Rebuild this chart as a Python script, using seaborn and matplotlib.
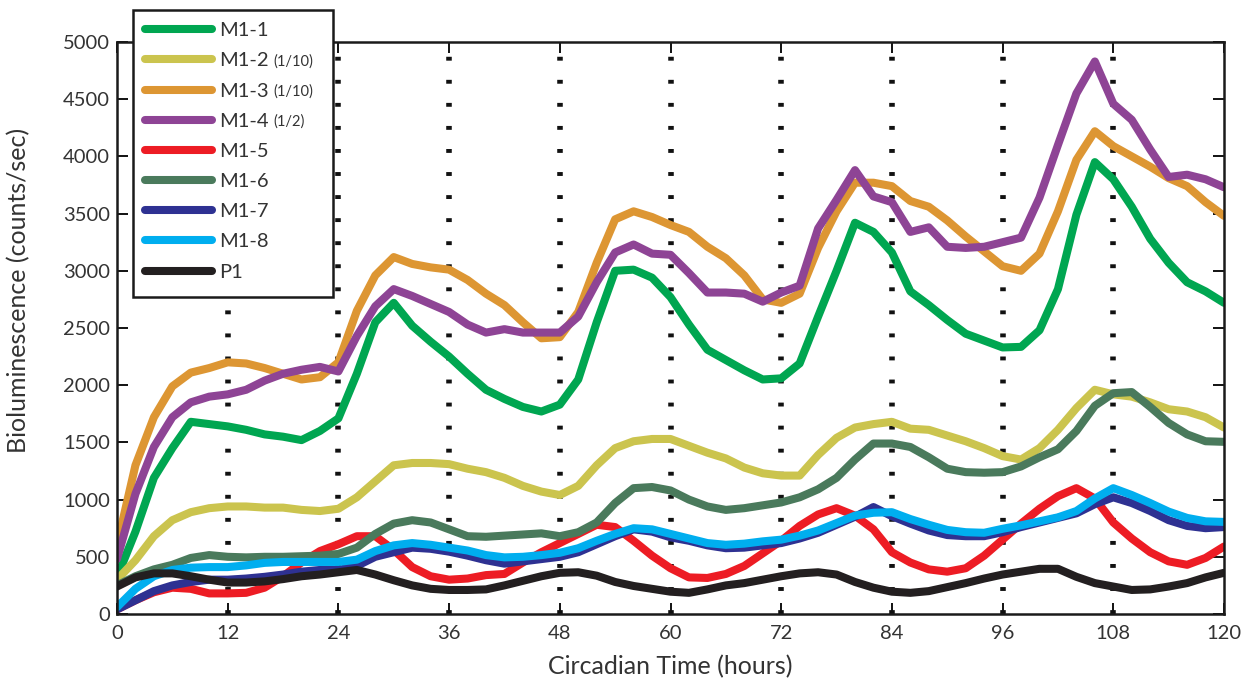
import matplotlib
matplotlib.use("Agg")
import matplotlib.pyplot as plt
from matplotlib.lines import Line2D
from matplotlib.patches import Rectangle
import seaborn as sns
import numpy as np
import pandas as pd

# %% data (every 2 h)
hours = list(range(0, 121, 2))

m1_1 = [320, 720, 1190, 1450, 1680, 1660, 1640, 1610, 1570, 1550,
        1520, 1600, 1710, 2100, 2550, 2720, 2520, 2380, 2250, 2100,
        1960, 1880, 1810, 1770, 1830, 2050, 2550, 3000, 3010, 2940,
        2770, 2530, 2310, 2220, 2130, 2050, 2060, 2190, 2600, 3000,
        3420, 3340, 3160, 2820, 2700, 2570, 2450, 2390, 2330, 2335,
        2480, 2840, 3490, 3950, 3800, 3560, 3280, 3070, 2900, 2820,
        2720]
m1_2 = [300, 470, 680, 820, 890, 925, 940, 940, 930, 930,
        910, 900, 920, 1020, 1160, 1300, 1320, 1320, 1310, 1270,
        1240, 1190, 1120, 1070, 1040, 1120, 1300, 1450, 1510, 1530,
        1530, 1470, 1410, 1360, 1280, 1230, 1210, 1210, 1390, 1540,
        1630, 1660, 1680, 1620, 1610, 1560, 1510, 1450, 1380, 1350,
        1450, 1610, 1800, 1960, 1920, 1900, 1850, 1790, 1770, 1720,
        1630]
m1_3 = [600, 1300, 1720, 1990, 2110, 2150, 2200, 2190, 2150, 2100,
        2050, 2070, 2200, 2650, 2960, 3120, 3060, 3030, 3010, 2920,
        2800, 2700, 2550, 2410, 2420, 2640, 3070, 3450, 3520, 3470,
        3400, 3340, 3210, 3110, 2960, 2750, 2720, 2800, 3200, 3520,
        3770, 3770, 3740, 3610, 3560, 3440, 3300, 3170, 3040, 3000,
        3150, 3520, 3970, 4220, 4090, 4000, 3910, 3810, 3740, 3600,
        3480]
m1_4 = [480, 1050, 1460, 1720, 1850, 1900, 1920, 1960, 2040, 2100,
        2135, 2160, 2120, 2430, 2690, 2840, 2780, 2710, 2640, 2530,
        2460, 2490, 2460, 2460, 2460, 2600, 2900, 3160, 3230, 3150,
        3140, 2980, 2810, 2810, 2800, 2730, 2810, 2870, 3370, 3620,
        3880, 3650, 3600, 3340, 3380, 3210, 3200, 3210, 3250, 3290,
        3640, 4100, 4550, 4830, 4460, 4320, 4060, 3820, 3840, 3800,
        3730]
m1_5 = [40, 120, 190, 230, 220, 180, 180, 185, 230, 330,
        450, 550, 610, 680, 680, 560, 410, 330, 300, 310,
        340, 350, 450, 540, 620, 700, 780, 760, 640, 510,
        400, 320, 315, 350, 420, 530, 640, 770, 870, 925,
        860, 740, 540, 450, 390, 370, 400, 510, 650, 790,
        920, 1030, 1100, 1010, 800, 660, 540, 460, 430, 490,
        590]
m1_6 = [250, 330, 390, 430, 490, 515, 500, 495, 500, 500,
        505, 510, 525, 580, 700, 790, 820, 800, 740, 680,
        675, 685, 695, 705, 680, 715, 800, 970, 1100, 1110,
        1080, 1000, 940, 910, 925, 950, 975, 1020, 1090, 1190,
        1350, 1490, 1490, 1460, 1370, 1270, 1240, 1235, 1240, 1290,
        1370, 1440, 1600, 1820, 1930, 1940, 1810, 1670, 1570, 1510,
        1505]
m1_7 = [40, 120, 200, 250, 280, 300, 300, 310, 325, 345,
        370, 385, 385, 420, 500, 540, 580, 570, 545, 510,
        470, 440, 460, 480, 500, 540, 610, 680, 740, 720,
        670, 640, 600, 575, 580, 600, 620, 660, 710, 780,
        850, 935, 855, 790, 730, 690, 680, 680, 715, 760,
        800, 840, 880, 960, 1020, 970, 900, 820, 770, 750,
        760]
m1_8 = [60, 220, 330, 385, 405, 410, 410, 425, 447, 455,
        455, 455, 455, 475, 550, 600, 620, 605, 580, 555,
        515, 495, 500, 515, 535, 575, 640, 700, 750, 740,
        700, 660, 620, 605, 615, 635, 650, 685, 730, 795,
        860, 885, 890, 830, 780, 735, 715, 710, 745, 775,
        810, 845, 900, 1010, 1100, 1040, 970, 895, 840, 810,
        805]
p1 = [240, 320, 355, 355, 330, 300, 275, 275, 285, 305,
      330, 345, 365, 385, 345, 295, 250, 220, 210, 210,
      215, 250, 290, 330, 360, 365, 335, 280, 245, 220,
      195, 185, 215, 250, 270, 300, 330, 355, 365, 345,
      280, 230, 195, 185, 200, 235, 270, 310, 345, 370,
      395, 395, 325, 270, 240, 210, 215, 240, 270, 320,
      360]

names = ['M1-1', 'M1-2', 'M1-3', 'M1-4', 'M1-5', 'M1-6', 'M1-7', 'M1-8', 'P1']
suffixes = ['', '(1/10)', '(1/10)', '(1/2)', '', '', '', '', '']
colors = ['#00a651', '#cbc44e', '#dd9633', '#8e4495', '#ed1c24',
          '#4a7a5c', '#2e3192', '#00aeef', '#231f20']
series = [m1_1, m1_2, m1_3, m1_4, m1_5, m1_6, m1_7, m1_8, p1]

x_ticks = list(range(0, 121, 12))
y_ticks = list(range(0, 5001, 500))

df = pd.concat([pd.DataFrame(dict(hour=hours, value=v, series=n))
                for n, v in zip(names, series)], ignore_index=True)

# %% plot
sns.set_theme(style='ticks')
plt.rcParams['font.family'] = ['Lato', 'DejaVu Sans']

W, H = 1249, 688
fig = plt.figure(figsize=(W / 100, H / 100), dpi=100)
ax = fig.add_axes([117 / W, 1 - 614 / H, (1224 - 117) / W, (614 - 42) / H])

ax.vlines(x_ticks[1:-1], 0, 5000, colors='#111111', lw=4.0,
          linestyles=[(0, (0.7, 3.45))], zorder=1.5)

sns.lineplot(data=df, x='hour', y='value', hue='series', hue_order=names,
             palette=dict(zip(names, colors)), linewidth=5.8, errorbar=None,
             legend=False, ax=ax, solid_joinstyle='round', zorder=2)

ax.set_xlim(0, 120)
ax.set_ylim(0, 5000)
ax.set_xticks(x_ticks)
ax.set_yticks(y_ticks)
ax.tick_params(direction='in', length=8, width=1.4, top=True, right=True,
               labelsize=14.5, labelcolor='#333333', color='#111111')
ax.tick_params(axis='x', pad=8)
ax.tick_params(axis='y', pad=5)
for s in ax.spines.values():
    s.set_linewidth(1.8)
    s.set_color('#1a1a1a')

ax.set_xlabel('Circadian Time (hours)', fontsize=18, color='#333333')
ax.set_ylabel('Bioluminescence (counts/sec)', fontsize=18, color='#333333')
ax.xaxis.set_label_coords(0.5, -0.072)
ax.yaxis.set_label_coords(-0.078, 0.565)

# legend box (sits partly above the axes)
frame = Rectangle((133 / W, 1 - 297 / H), 200 / W, 287 / H,
                  transform=fig.transFigure, facecolor='white',
                  edgecolor='#1a1a1a', lw=1.8, zorder=4.5, clip_on=False)
ax.add_artist(frame)

handles = [Line2D([0], [0], color=c, lw=5.8) for c in colors]
leg = ax.legend(handles, names, loc='upper left',
                bbox_to_anchor=(133 / W, 1 - 10 / H),
                bbox_transform=fig.transFigure, borderaxespad=0,
                frameon=False, fontsize=14.5, borderpad=0.6,
                handlelength=3.3, handletextpad=0.4, labelspacing=0.65)
leg.set_zorder(5)
for t in leg.get_texts():
    t.set_color('#333333')
for t, suf in zip(leg.get_texts(), suffixes):
    if suf:
        ax.annotate(suf, xy=(1, 0), xycoords=t, xytext=(3, 0.8),
                    textcoords='offset points', fontsize=10.5,
                    color='#333333', ha='left', va='bottom', zorder=6)

fig.savefig('out.png', dpi=100, facecolor='white')
